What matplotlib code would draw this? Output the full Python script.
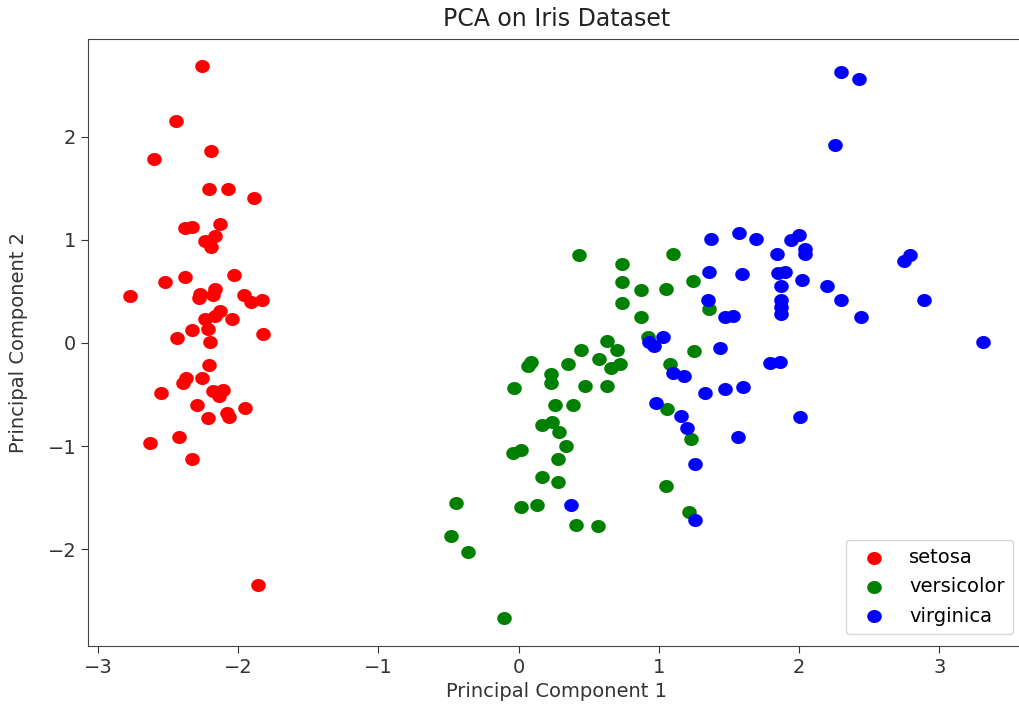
import numpy as np
import matplotlib.pyplot as plt
from matplotlib.path import Path

# values (PC1, PC2)
setosa_pc1 = [-2.26, -2.445, -2.60, -2.195, -2.21, -2.07, -1.89, -2.38, -2.33, -2.13,
              -2.165, -2.236, -2.19, -2.52, -2.38, -2.03, -2.77, -2.27, -2.28, -2.165,
              -2.18, -1.96, -1.91, -1.83, -2.13, -2.165, -2.236, -2.045, -2.33, -2.217,
              -2.435, -2.20, -1.82, -2.21, -2.37, -2.395, -2.26, -2.55, -2.18, -2.11,
              -2.135, -2.29, -1.95, -2.08, -2.065, -2.217, -2.42, -2.625, -2.33, -1.86]
setosa_pc2 = [2.69, 2.15, 1.79, 1.86, 1.49, 1.49, 1.41, 1.12, 1.13, 1.15,
              1.04, 0.99, 0.93, 0.59, 0.64, 0.66, 0.455, 0.48, 0.44, 0.52,
              0.47, 0.47, 0.40, 0.42, 0.31, 0.26, 0.23, 0.235, 0.125, 0.14,
              0.045, 0.005, 0.085, -0.21, -0.34, -0.385, -0.34, -0.49, -0.47, -0.46,
              -0.51, -0.60, -0.63, -0.68, -0.72, -0.73, -0.91, -0.97, -1.13, -2.35]

versicolor_pc1 = [0.43, 0.74, 0.735, 0.735, 0.63, 0.445, 0.70, 0.57, 0.66, 0.72,
                  0.35, 0.065, 0.09, 0.23, 0.23, -0.03, 0.47, 0.63, 0.26, 0.39,
                  0.164, 0.24, 0.29, 0.34, -0.04, 0.015, 0.28, 0.164, 0.28, -0.45,
                  0.02, 0.13, 0.41, 0.565, -0.48, -0.36, -0.105, 1.10, 0.875, 1.05,
                  1.24, 0.875, 1.36, 0.92, 1.25, 1.08, 1.06, 1.23, 1.05, 1.215]
versicolor_pc2 = [0.85, 0.77, 0.59, 0.39, 0.02, -0.07, -0.07, -0.16, -0.24, -0.20,
                  -0.20, -0.225, -0.18, -0.30, -0.39, -0.44, -0.42, -0.42, -0.60, -0.60,
                  -0.80, -0.77, -0.86, -1.00, -1.065, -1.04, -1.13, -1.30, -1.35, -1.55,
                  -1.59, -1.575, -1.77, -1.78, -1.87, -2.03, -2.67, 0.86, 0.51, 0.52,
                  0.60, 0.25, 0.33, 0.055, -0.08, -0.20, -0.645, -0.935, -1.39, -1.64]

virginica_pc1 = [0.37, 1.37, 1.57, 1.69, 1.945, 2.00, 1.84, 2.04, 2.04, 1.36,
                 1.59, 1.85, 1.90, 2.02, 1.87, 1.87, 1.87, 1.87, 1.35, 1.47,
                 1.525, 1.03, 0.93, 0.965, 1.435, 1.79, 1.86, 1.10, 1.18, 1.33,
                 1.47, 1.60, 0.98, 1.155, 1.20, 1.565, 2.005, 1.26, 1.26, 2.20,
                 2.30, 2.44, 2.75, 2.79, 2.89, 3.31, 2.30, 2.43, 2.255]
virginica_pc2 = [-1.575, 1.01, 1.07, 1.01, 1.00, 1.05, 0.86, 0.91, 0.86, 0.685,
                 0.67, 0.675, 0.685, 0.61, 0.55, 0.42, 0.345, 0.28, 0.42, 0.25,
                 0.26, 0.06, 0.01, -0.03, -0.05, -0.19, -0.18, -0.295, -0.32, -0.49,
                 -0.45, -0.425, -0.58, -0.705, -0.82, -0.91, -0.72, -1.17, -1.72, 0.555,
                 0.42, 0.25, 0.80, 0.85, 0.42, 0.005, 2.63, 2.56, 1.92]

target_names = ['setosa', 'versicolor', 'virginica']
colors = ['red', 'green', 'blue']

# the reference is a bit stretched sideways, so use slightly wide dots
t = np.linspace(0, 2 * np.pi, 60)
dot = Path(np.column_stack([1.12 * np.cos(t), np.sin(t)]), closed=True)

fig = plt.figure(figsize=(10.2, 7.06), dpi=100)
ax = fig.add_axes([0.0863, 0.085, 0.9186, 0.8598])

groups = [(setosa_pc1, setosa_pc2), (versicolor_pc1, versicolor_pc2),
          (virginica_pc1, virginica_pc2)]
for (pc1, pc2), color, name in zip(groups, colors, target_names):
    ax.scatter(pc1, pc2, color=color, label=name, marker=dot, s=110, linewidths=0)

ax.set_xlim(-3.07, 3.61)
ax.set_ylim(-2.94, 2.95)
ax.set_xticks([-3, -2, -1, 0, 1, 2, 3])
ax.set_yticks([-2, -1, 0, 1, 2])
ax.tick_params(labelsize=14, length=5, colors='#333333')
for sp in ax.spines.values():
    sp.set_color('#444444')

ax.set_title('PCA on Iris Dataset', fontsize=17, color='#222222', pad=9)
ax.set_xlabel('Principal Component 1', fontsize=14, color='#333333')
ax.set_ylabel('Principal Component 2', fontsize=14, color='#333333', labelpad=14)
ax.legend(loc='lower right', fontsize=14, borderpad=0.45, labelspacing=0.52,
          borderaxespad=0.6)

plt.savefig('out.png', dpi=100)
